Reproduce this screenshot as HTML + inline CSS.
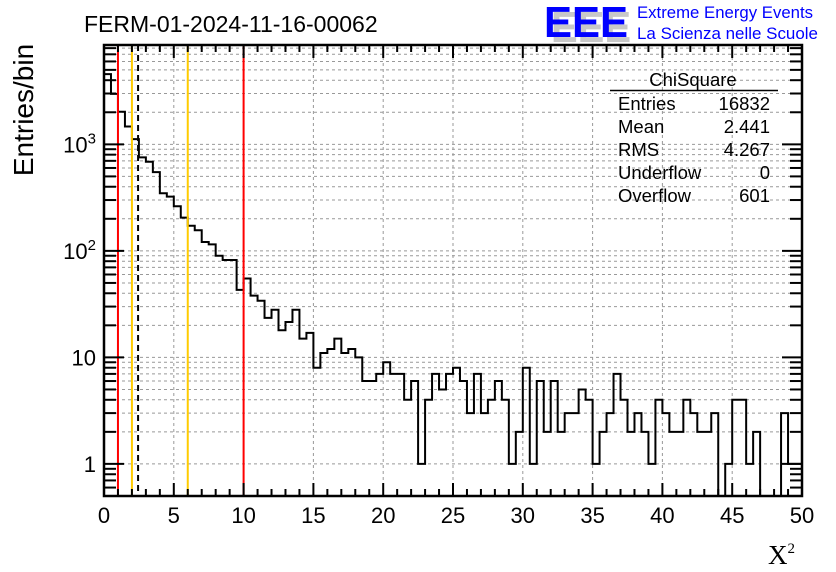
<!DOCTYPE html>
<html><head><meta charset="utf-8"><style>
html,body{margin:0;padding:0;background:#fff;}
svg{display:block;font-family:"Liberation Sans",sans-serif;}
</style></head><body>
<svg id="c" width="836" height="572" viewBox="0 0 836 572">
<text x="84" y="32" font-size="23" fill="#000">FERM-01-2024-11-16-00062</text>
<g>
<text x="551" y="42" font-size="44" font-weight="bold" fill="#c8c8c8" textLength="80" lengthAdjust="spacingAndGlyphs">EEE</text>
<text x="544" y="37" font-size="44" font-weight="bold" fill="#0000ff" textLength="84" lengthAdjust="spacingAndGlyphs">EEE</text>
<text x="637" y="18" font-size="16.5" fill="#0000ff" textLength="176" lengthAdjust="spacingAndGlyphs">Extreme Energy Events</text>
<text x="637" y="39" font-size="16.5" fill="#0000ff" textLength="181" lengthAdjust="spacingAndGlyphs">La Scienza nelle Scuole</text>
</g>
<g id="grid"></g>
<g id="marks"></g>
<g id="axes"></g>
<g font-size="18.5" fill="#000">
<text x="693" y="86" text-anchor="middle">ChiSquare</text>
<line x1="610" y1="90.5" x2="778" y2="90.5" stroke="#000" stroke-width="1.5"/>
<text x="618" y="110">Entries</text><text x="770" y="110" text-anchor="end">16832</text>
<text x="618" y="133">Mean</text><text x="770" y="133" text-anchor="end">2.441</text>
<text x="618" y="156">RMS</text><text x="770" y="156" text-anchor="end">4.267</text>
<text x="618" y="179">Underflow</text><text x="770" y="179" text-anchor="end">0</text>
<text x="618" y="202">Overflow</text><text x="770" y="202" text-anchor="end">601</text>
</g>
<text transform="translate(33,110) rotate(-90)" text-anchor="middle" font-size="28">Entries/bin</text>
<text x="768" y="564" font-size="27" font-family="Liberation Serif,serif">X<tspan font-size="15" dy="-11">2</tspan></text>
</svg>
<script>
const binCounts = [4560,2980,2020,1470,1120,754,687,548,347,323,262,205,172,156,121,115,90,82,82,43,
55,38,34,23.5,28,18,21.5,28,15,17,8,11,12,15,11,12,10,6,6,7,
9,7,7,4,6,1,4,7,5,7,8,6,3,7,3,4,6,4,1,2,
8,1,6,2,6,2,3,3,5,4,1,2,3,7,4,2,3,2,1,4,
3,2,2,4,3,2,2,3,0,1,4,4,1,2,0,0,0,3,1,1];
const binWidth = 0.5;
const xTicks = [0,5,10,15,20,25,30,35,40,45,50];
const yDecades = [1,10,100,1000];
const yDecadeLabels = ["1","10","10²","10³"];
const cutLines = [1,2,6,10];
const cutColors = ["#ff0000","#ffcc00","#ffcc00","#ff0000"];
const meanValue = 2.441;

const X0=104,X1=802,Y0=496,Y1=45,XMIN=0,XMAX=50,YMIN=0.5,YMAX=8560;
const xs=v=>X0+(v-XMIN)/(XMAX-XMIN)*(X1-X0);
const ys=v=>Y0-(Math.log10(v)-Math.log10(YMIN))/(Math.log10(YMAX)-Math.log10(YMIN))*(Y0-Y1);
const NS="http://www.w3.org/2000/svg";
function mk(tag,parent,attrs){const e=document.createElementNS(NS,tag);for(const k in attrs)e.setAttribute(k,attrs[k]);parent.appendChild(e);return e;}
const grid=document.getElementById('grid'),marks=document.getElementById('marks'),axes=document.getElementById('axes');
for(const t of xTicks){if(t===XMIN||t===XMAX)continue;
 const l=mk('line',grid,{x1:xs(t),x2:xs(t),y1:Y1,y2:Y0,stroke:'#999','stroke-width':1,'stroke-dasharray':'3,3'});
 
 }
for(const d of yDecades){for(let m=1;m<=9;m++){const v=d*m;if(v<=YMIN||v>=YMAX)continue;
 const l=mk('line',grid,{x1:X0,x2:X1,y1:ys(v),y2:ys(v),stroke:'#999','stroke-width':1,'stroke-dasharray':'3,3'});
 
 }}
let d='';let prevY=null;
binCounts.forEach((c,i)=>{const x=xs(i*binWidth),x2=xs((i+1)*binWidth);const y=c>0?ys(c):Y0+5;
 if(prevY===null)d+=`M${x},${y}`;else d+=`L${x},${y}`;d+=`L${x2},${y}`;prevY=y;});
const h=mk('path',marks,{d:d,fill:'none',stroke:'#000','stroke-width':2});


const clip=mk('clipPath',marks,{id:'pc'});mk('rect',clip,{x:X0,y:Y1,width:X1-X0,height:Y0-Y1});
h.setAttribute('clip-path','url(#pc)');
cutLines.forEach((v,i)=>{const l=mk('line',marks,{x1:xs(v),x2:xs(v),y1:Y1,y2:Y0,stroke:cutColors[i],'stroke-width':2});
 
 });
const ml=mk('line',marks,{x1:xs(meanValue),x2:xs(meanValue),y1:Y1,y2:Y0,stroke:'#000','stroke-width':2,'stroke-dasharray':'6,4'});


const fr=mk('rect',axes,{x:X0,y:Y1,width:X1-X0,height:Y0-Y1,fill:'none',stroke:'#000','stroke-width':2.5});


for(let v=XMIN;v<=XMAX;v++){const major=v%5===0;const len=major?13:7;
 mk('line',axes,{x1:xs(v),x2:xs(v),y1:Y0,y2:Y0-len,stroke:'#000','stroke-width':2});
 mk('line',axes,{x1:xs(v),x2:xs(v),y1:Y1,y2:Y1+len,stroke:'#000','stroke-width':2});}
xTicks.forEach(t=>{const tx=mk('text',axes,{x:xs(t),y:523,'text-anchor':'middle','font-size':22});tx.textContent=String(t);
 
 });
const allDec=[0.1,1,10,100,1000];
for(const dd of allDec){for(let m=1;m<=9;m++){const v=dd*m;if(v<YMIN||v>YMAX)continue;const len=m===1?20:12;
 mk('line',axes,{x1:X0,x2:X0+len,y1:ys(v),y2:ys(v),stroke:'#000','stroke-width':2});
 mk('line',axes,{x1:X1,x2:X1-len,y1:ys(v),y2:ys(v),stroke:'#000','stroke-width':2});}}
yDecades.forEach((v,i)=>{const tx=mk('text',axes,{x:96,y:ys(v)+8,'text-anchor':'end','font-size':22});
 const lab=yDecadeLabels[i];
 if(lab.length>2&&lab.startsWith('10')){tx.textContent='10';const s=mk('tspan',tx,{'font-size':15,dy:-9});s.textContent=lab==='10²'?'2':'3';}
 else tx.textContent=lab;
 
 });
</script>
</body></html>
